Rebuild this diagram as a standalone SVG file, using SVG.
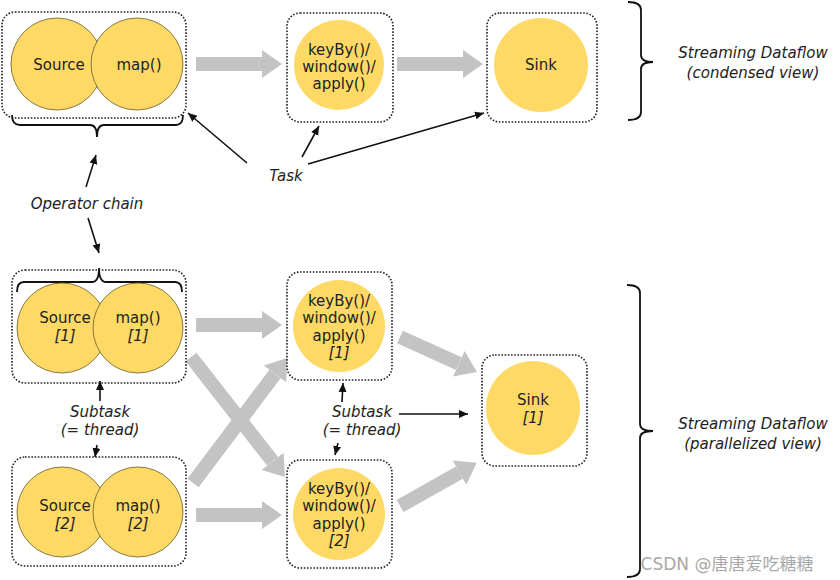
<svg xmlns="http://www.w3.org/2000/svg" width="840" height="580" viewBox="0 0 840 580">
<style>
.box{fill:none;stroke:#222;stroke-width:1.6;stroke-dasharray:1.6 1.6}
.op{fill:#FFD966;stroke:#6b5a2a;stroke-width:0.8}
.opn{fill:#FFD966}
.t{font-family:"DejaVu Sans",Verdana,sans-serif;font-size:15px;fill:#222;text-anchor:middle}
.i{font-style:italic}
.lbl{font-family:"DejaVu Sans",Verdana,sans-serif;font-size:15px;font-style:italic;fill:#222;text-anchor:middle}
.flow{stroke:#c3c3c3;stroke-width:14;fill:none;marker-end:url(#gh)}
.ptr{stroke:#111;stroke-width:1.6;fill:none;marker-end:url(#bh)}
.brace{stroke:#111;stroke-width:1.8;fill:none}
</style>
<defs>
<marker id="gh" markerUnits="userSpaceOnUse" markerWidth="22" markerHeight="30" viewBox="0 -15 22 30" refX="0" refY="0" orient="auto"><path d="M0,-14 L20,0 L0,14 z" fill="#c3c3c3"/></marker>
<marker id="bh" markerUnits="userSpaceOnUse" markerWidth="10" markerHeight="10" viewBox="0 -5 10 10" refX="9" refY="0" orient="auto"><path d="M0,-4 L9,0 L0,4 z" fill="#111"/></marker>
</defs>
<rect width="840" height="580" fill="#fff"/>

<g id="connectors">
<line class="flow" x1="196" y1="64" x2="262" y2="64"/>
<line class="flow" x1="397" y1="64" x2="463" y2="64"/>
<line class="flow" x1="196" y1="325" x2="262" y2="325"/>
<line class="flow" x1="196" y1="515" x2="262" y2="515"/>
<line class="flow" x1="191" y1="357" x2="272.6" y2="461.3"/>
<line class="flow" x1="193" y1="483" x2="275" y2="374"/>
<line class="flow" x1="400" y1="337" x2="458.8" y2="363.7"/>
<line class="flow" x1="400" y1="506" x2="459.4" y2="472.6"/>

<line class="ptr" x1="247" y1="163" x2="188" y2="113"/>
<line class="ptr" x1="302" y1="157" x2="319" y2="126"/>
<line class="ptr" x1="308" y1="164" x2="484" y2="113"/>
<line class="ptr" x1="86" y1="187" x2="96" y2="155"/>
<line class="ptr" x1="88" y1="218" x2="99" y2="253"/>
<line class="ptr" x1="100" y1="401" x2="100" y2="381"/>
<line class="ptr" x1="97" y1="445" x2="95" y2="457"/>
<line class="ptr" x1="342" y1="402" x2="343" y2="383"/>
<line class="ptr" x1="338" y1="443" x2="335" y2="455"/>
<line class="ptr" x1="399" y1="414" x2="468" y2="414"/>

<path class="brace" d="M12,115 Q12,125 20,125 L90,125 Q97,125 97,137 Q97,125 104,125 L176,125 Q183,125 183,115"/>
<path class="brace" d="M17,292 Q17,282 24,282 L92,282 Q99,282 99,268 Q99,282 106,282 L175,282 Q182,282 182,292"/>
<path class="brace" d="M628,2 Q641,2 641,10 L641,55 Q641,62 653,62 Q641,62 641,69 L641,112 Q641,120 628,120"/>
<path class="brace" d="M627,285 Q640,285 640,293 L640,424 Q640,431 653,431 Q640,431 640,438 L640,569 Q640,577 627,577"/>
</g>

<g id="chain-top">
<rect class="box" x="2" y="12" width="184" height="106" rx="13"/>
<circle class="op" cx="57" cy="64" r="46"/>
<circle class="op" cx="137" cy="64" r="46"/>
<text class="t" x="59" y="70">Source</text>
<text class="t" x="139" y="70">map()</text>
</g>
<g id="keyby-top">
<rect class="box" x="287" y="13" width="106" height="109" rx="13"/>
<circle class="opn" cx="339" cy="65" r="45"/>
<text class="t" x="339" y="55">keyBy()/</text>
<text class="t" x="339" y="72">window()/</text>
<text class="t" x="339" y="89">apply()</text>
</g>
<g id="sink-top">
<rect class="box" x="487" y="13" width="110" height="109" rx="13"/>
<circle class="opn" cx="541" cy="65" r="47"/>
<text class="t" x="541" y="70">Sink</text>
</g>

<g id="chain-1">
<rect class="box" x="12" y="270" width="174" height="113" rx="13"/>
<circle class="op" cx="62" cy="328" r="45"/>
<circle class="op" cx="138" cy="328" r="45"/>
<text class="t" x="65" y="323">Source</text>
<text class="t i" x="65" y="341">[1]</text>
<text class="t" x="138" y="323">map()</text>
<text class="t i" x="138" y="341">[1]</text>
</g>
<g id="chain-2">
<rect class="box" x="12" y="457" width="174" height="109" rx="13"/>
<circle class="op" cx="62" cy="512" r="45"/>
<circle class="op" cx="138" cy="512" r="45"/>
<text class="t" x="65" y="511">Source</text>
<text class="t i" x="65" y="529">[2]</text>
<text class="t" x="138" y="511">map()</text>
<text class="t i" x="138" y="529">[2]</text>
</g>
<g id="keyby-1">
<rect class="box" x="287" y="272" width="105" height="108" rx="13"/>
<circle class="opn" cx="339" cy="326" r="46"/>
<text class="t" x="339" y="306">keyBy()/</text>
<text class="t" x="339" y="323">window()/</text>
<text class="t" x="339" y="341">apply()</text>
<text class="t i" x="339" y="358">[1]</text>
</g>
<g id="keyby-2">
<rect class="box" x="287" y="460" width="105" height="108" rx="13"/>
<circle class="opn" cx="339" cy="514" r="46"/>
<text class="t" x="339" y="494">keyBy()/</text>
<text class="t" x="339" y="511">window()/</text>
<text class="t" x="339" y="529">apply()</text>
<text class="t i" x="339" y="546">[2]</text>
</g>
<g id="sink-1">
<rect class="box" x="482" y="355" width="105" height="111" rx="13"/>
<circle class="opn" cx="533" cy="408" r="47"/>
<text class="t" x="533" y="405">Sink</text>
<text class="t i" x="533" y="423">[1]</text>
</g>

<g id="labels">
<text class="lbl" x="286" y="181">Task</text>
<text class="lbl" x="87" y="209">Operator chain</text>
<text class="lbl" x="100" y="417">Subtask</text>
<text class="lbl" x="100" y="435">(= thread)</text>
<text class="lbl" x="362" y="417">Subtask</text>
<text class="lbl" x="362" y="435">(= thread)</text>
<text class="lbl" x="753" y="58">Streaming Dataflow</text>
<text class="lbl" x="753" y="78">(condensed view)</text>
<text class="lbl" x="753" y="429">Streaming Dataflow</text>
<text class="lbl" x="753" y="449">(parallelized view)</text>
<text x="727" y="570" text-anchor="middle" font-family="'DejaVu Sans','Noto Sans CJK SC',sans-serif" font-size="17" fill="#9a9a9a" opacity="0.85">CSDN @唐唐爱吃糖糖</text>
</g>
</svg>
